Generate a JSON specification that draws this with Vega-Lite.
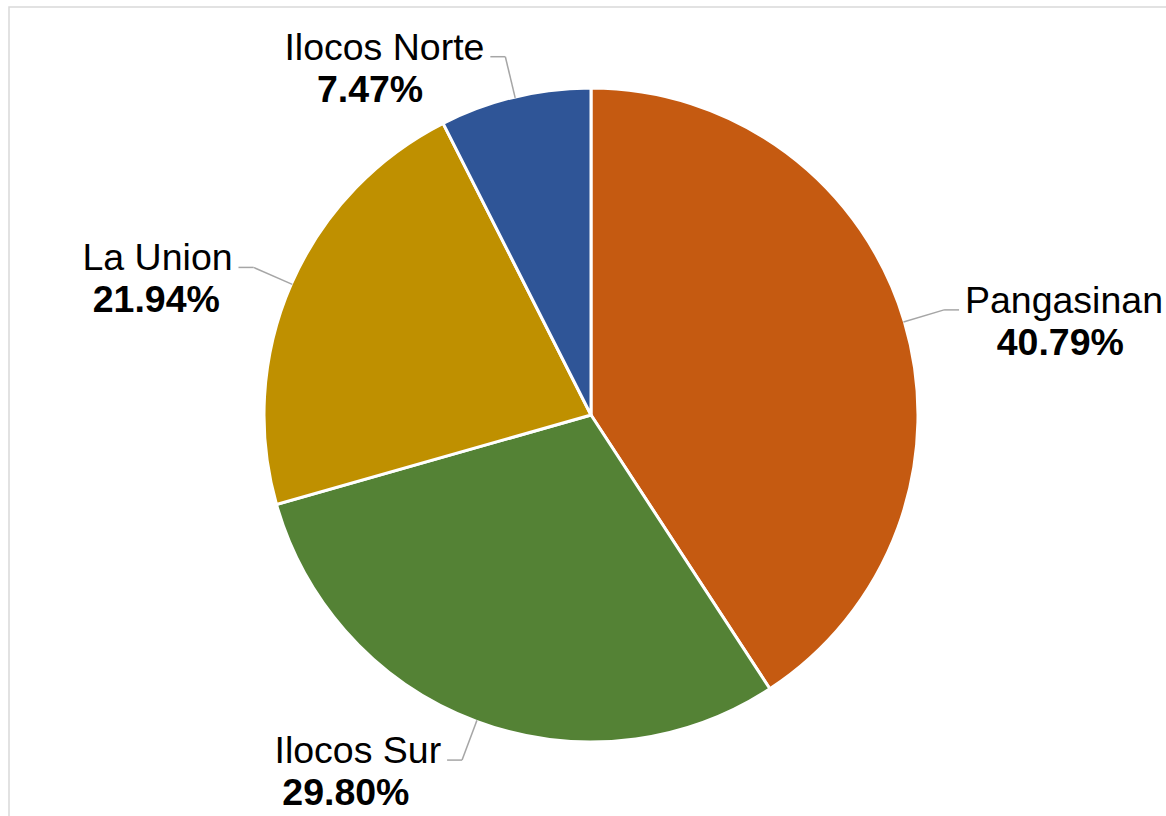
{
  "$schema": "https://vega.github.io/schema/vega-lite/v6.json",
  "width": 1166,
  "height": 816,
  "autosize": {"type": "fit", "contains": "padding"},
  "padding": {"left": 9, "top": 7, "right": -2, "bottom": -2},
  "background": "white",
  "config": {"view": {"stroke": "#d9d9d9", "strokeWidth": 1.5}, "font": "Liberation Sans"},
  "data": {
    "values": [
      {"region": "Pangasinan", "share": 40.79},
      {"region": "Ilocos Sur", "share": 29.80},
      {"region": "La Union", "share": 21.94},
      {"region": "Ilocos Norte", "share": 7.47}
    ]
  },
  "transform": [
    {"window": [{"op": "sum", "field": "share", "as": "cum"}], "frame": [null, 0]},
    {"calculate": "datum.cum - datum.share", "as": "start"},
    {"calculate": "2 * PI * (datum.cum - datum.share / 2) / 100", "as": "a"},
    {"calculate": "sin(datum.a)", "as": "x0"},
    {"calculate": "cos(datum.a)", "as": "y0"},
    {"calculate": "1.13 * sin(datum.a)", "as": "x1"},
    {"calculate": "1.13 * cos(datum.a)", "as": "y1"},
    {"calculate": "datum.x0 >= 0 ? 1 : -1", "as": "side"},
    {"calculate": "datum.x1 + datum.side * 0.046", "as": "x2"},
    {"calculate": "datum.x2 + datum.side * 0.018", "as": "tx"},
    {"calculate": "datum.tx + datum.side * length(datum.region) * 0.0585 / 2", "as": "cx"},
    {"calculate": "datum.y1 + 0.0245", "as": "ty"},
    {"calculate": "datum.ty - 0.129", "as": "py"},
    {"calculate": "format(datum.share, '.2f') + '%'", "as": "label"}
  ],
  "layer": [
    {
      "mark": {"type": "arc", "outerRadius": 327, "stroke": "white", "strokeWidth": 3},
      "encoding": {
        "x": {"datum": 0, "type": "quantitative", "scale": {"domain": [-1.78528, 1.76994]}, "axis": null},
        "y": {"datum": 0, "type": "quantitative", "scale": {"domain": [-1.2362, 1.25153]}, "axis": null},
        "theta": {"field": "start", "type": "quantitative", "scale": {"domain": [0, 100]}},
        "theta2": {"field": "cum"},
        "color": {
          "field": "region",
          "type": "nominal",
          "scale": {
            "domain": ["Pangasinan", "Ilocos Sur", "La Union", "Ilocos Norte"],
            "range": ["#C55A11", "#548235", "#BF9000", "#2F5597"]
          },
          "legend": null
        }
      }
    },
    {
      "mark": {"type": "rule", "color": "#a6a6a6", "strokeWidth": 1.5},
      "encoding": {
        "x": {"field": "x0", "type": "quantitative", "scale": {"domain": [-1.78528, 1.76994]}, "axis": null},
        "y": {"field": "y0", "type": "quantitative", "scale": {"domain": [-1.2362, 1.25153]}, "axis": null},
        "x2": {"field": "x1"},
        "y2": {"field": "y1"}
      }
    },
    {
      "mark": {"type": "rule", "color": "#a6a6a6", "strokeWidth": 1.5},
      "encoding": {
        "x": {"field": "x1", "type": "quantitative", "scale": {"domain": [-1.78528, 1.76994]}, "axis": null},
        "y": {"field": "y1", "type": "quantitative", "scale": {"domain": [-1.2362, 1.25153]}, "axis": null},
        "x2": {"field": "x2"},
        "y2": {"field": "y1"}
      }
    },
    {
      "transform": [{"filter": "datum.side > 0"}],
      "mark": {"type": "text", "align": "left", "baseline": "middle", "fontSize": 37.5, "color": "black"},
      "encoding": {
        "x": {"field": "tx", "type": "quantitative", "scale": {"domain": [-1.78528, 1.76994]}, "axis": null},
        "y": {"field": "ty", "type": "quantitative", "scale": {"domain": [-1.2362, 1.25153]}, "axis": null},
        "text": {"field": "region"}
      }
    },
    {
      "transform": [{"filter": "datum.side < 0"}],
      "mark": {"type": "text", "align": "right", "baseline": "middle", "fontSize": 37.5, "color": "black"},
      "encoding": {
        "x": {"field": "tx", "type": "quantitative", "scale": {"domain": [-1.78528, 1.76994]}, "axis": null},
        "y": {"field": "ty", "type": "quantitative", "scale": {"domain": [-1.2362, 1.25153]}, "axis": null},
        "text": {"field": "region"}
      }
    },
    {
      "mark": {"type": "text", "align": "center", "baseline": "middle", "fontSize": 37.5, "fontWeight": "bold", "color": "black"},
      "encoding": {
        "x": {"field": "cx", "type": "quantitative", "scale": {"domain": [-1.78528, 1.76994]}, "axis": null},
        "y": {"field": "py", "type": "quantitative", "scale": {"domain": [-1.2362, 1.25153]}, "axis": null},
        "text": {"field": "label"}
      }
    }
  ]
}
